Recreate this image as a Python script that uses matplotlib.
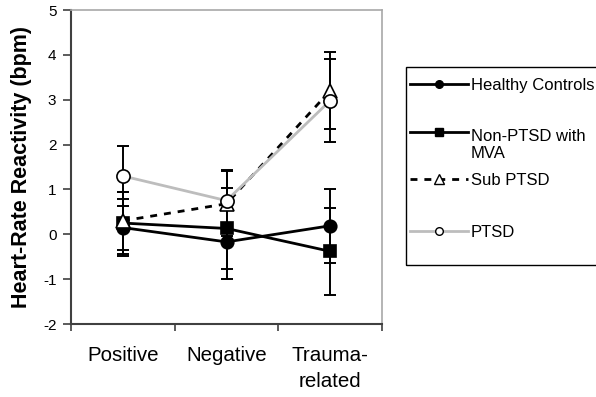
import matplotlib
matplotlib.use("Agg")
import matplotlib.pyplot as plt
from matplotlib.lines import Line2D
from matplotlib.patches import Rectangle

plt.rcParams['font.family'] = ['Liberation Sans', 'DejaVu Sans']
plt.rcParams['axes.unicode_minus'] = False

# data
conditions = ["Positive", "Negative", "Trauma-\nrelated"]
groups = ["Healthy Controls", "Non-PTSD with\nMVA", "Sub PTSD", "PTSD"]
healthy = [0.15, -0.17, 0.19]
healthy_err = [0.63, 0.83, 0.83]
non_ptsd = [0.25, 0.13, -0.38]
non_ptsd_err = [0.70, 0.91, 0.97]
sub_ptsd = [0.30, 0.68, 3.20]
sub_ptsd_err = [0.65, 0.72, 0.86]
ptsd = [1.30, 0.75, 2.98]
ptsd_err = [0.67, 0.68, 0.92]

W, H = 596, 397
fig = plt.figure(figsize=(W / 100, H / 100), dpi=100)
ax = fig.add_axes([71 / W, 1 - 324 / H, 311 / W, 314 / H])

def px(x, y):
    return x / W, 1 - y / H

xpos = [0.5, 1.5, 2.5]
styles = [
    dict(color="black", ls="-", marker="o", mfc="black", mec="black", ms=9),
    dict(color="black", ls="-", marker="s", mfc="black", mec="black", ms=9),
    dict(color="black", ls=(0, (2.5, 2.5)), marker="^", mfc="white", mec="black", ms=10),
    dict(color="#bdbdbd", ls="-", marker="o", mfc="white", mec="black", ms=9.5),
]
series = [(healthy, healthy_err), (non_ptsd, non_ptsd_err),
          (sub_ptsd, sub_ptsd_err), (ptsd, ptsd_err)]

for (vals, errs), st in zip(series, styles):
    ax.errorbar(xpos, vals, yerr=errs, fmt="none", ecolor="black",
                elinewidth=1.4, capsize=4.5, capthick=1.4, zorder=2)
for (vals, errs), st in zip(series, styles):
    ax.plot(xpos, vals, color=st["color"], ls=st["ls"], lw=2,
            marker=st["marker"], mfc=st["mfc"], mec=st["mec"], ms=st["ms"],
            mew=1.2, zorder=3)

ax.set_xlim(0, 3)
ax.set_ylim(-2, 5)
ax.set_yticks(range(-2, 6))
ax.set_xticks([0, 1, 2, 3])
ax.set_xticklabels([])
ax.set_xticks(xpos, minor=True)
ax.set_xticklabels(conditions, minor=True, fontsize=14.8)
for lab in ax.get_xticklabels(minor=True):
    lab.set_linespacing(1.45)
ax.tick_params(axis="x", which="minor", length=0, pad=16)
ax.tick_params(axis="x", which="major", length=5, width=1.2, color="#404040", direction="out")
ax.tick_params(axis="y", length=5.5, width=1.2, color="#404040", labelsize=11, pad=5)

for s in ["left", "bottom"]:
    ax.spines[s].set_color("#404040")
    ax.spines[s].set_linewidth(1.5)
for s in ["top", "right"]:
    ax.spines[s].set_color("#a8a8a8")
    ax.spines[s].set_linewidth(1.2)

ax.set_ylabel("Heart-Rate Reactivity (bpm)", fontsize=15.5, fontweight="bold")
ax.yaxis.set_label_coords(-0.125, 0.5)

# legend drawn by hand to follow the Excel layout
x0, y0 = px(406, 67)
x1, y1 = px(625, 265)
fig.add_artist(Rectangle((x0, y1), x1 - x0, y0 - y1, transform=fig.transFigure,
                         fill=False, edgecolor="black", lw=1.0))
rows = [84, 132, 179, 231]
leg_ms = [5.5, 5.5, 6.5, 5.5]
for name, st, ry, ms in zip(groups, styles, rows, leg_ms):
    xa, ya = px(410, ry)
    xb, _ = px(468, ry)
    fig.add_artist(Line2D([xa, (xa + xb) / 2, xb], [ya, ya, ya], transform=fig.transFigure,
                          color=st["color"], ls=st["ls"], lw=2, marker=st["marker"],
                          mfc=st["mfc"], mec=st["mec"], ms=ms, mew=1.0, markevery=[1]))
    nlines = name.count("\n")
    tx, ty = px(471, ry + 6 + 20 * nlines)
    fig.text(tx, ty, name, fontsize=12, va="baseline", ha="left", linespacing=1.2)

fig.savefig("out.png", dpi=100)
